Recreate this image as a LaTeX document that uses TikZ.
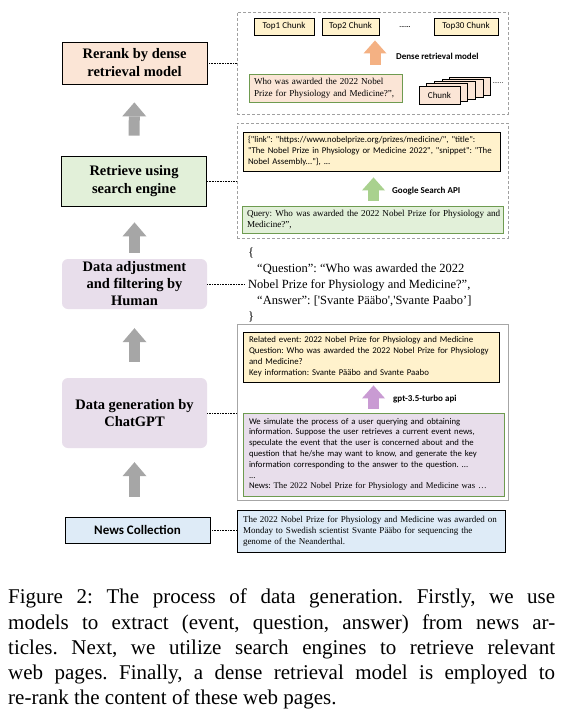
\documentclass[tikz,border=0pt]{standalone}
\usepackage{fontspec}
\setmainfont{Liberation Serif}[Ligatures=TeXOff]
\setsansfont{Carlito}[Ligatures=TeXOff]
\usetikzlibrary{arrows.meta}
\frenchspacing

\begin{document}
\begin{tikzpicture}[x=1pt, y=-1pt,
    stagebox/.style={draw=black, line width=0.8pt, minimum width=145pt, inner sep=2pt, align=center, font=\bfseries\fontsize{14.5}{18}\selectfont},
    softbox/.style={fill=stageFill, rounded corners=6pt, minimum width=145pt, inner sep=2pt, align=center, font=\bfseries\fontsize{14.5}{17}\selectfont},
    panel/.style={draw=panelGray, dash pattern=on 3pt off 2pt, line width=0.8pt, inner sep=0pt},
    infobox/.style={line width=0.8pt, align=left, inner ysep=0pt, font=\sffamily\fontsize{8.8}{11}\selectfont},
    chunkbox/.style={draw=black, line width=0.9pt, fill=yellowFill, minimum height=17pt, inner sep=0pt, font=\sffamily\fontsize{9}{11}\selectfont},
    stackbox/.style={draw=black, line width=0.9pt, fill=peachFill, minimum width=41pt, minimum height=18pt, inner sep=0pt, font=\sffamily\fontsize{9}{11}\selectfont},
    apilabel/.style={anchor=west, inner sep=0pt, font=\sffamily\bfseries\fontsize{9}{11}\selectfont},
    link/.style={densely dotted, line width=0.6pt},
    bigarrow/.style={draw=arrowGray, line width=11pt, -{Triangle[width=24pt, length=14pt, line width=0pt]}},
    smallarrow/.style={draw=#1, line width=11pt, -{Triangle[width=23pt, length=13pt, line width=0pt]}}]
    \definecolor{peachFill}{HTML}{FBE5D6}
    \definecolor{greenFill}{HTML}{E2F0D9}
    \definecolor{stageFill}{HTML}{E8DEEB}
    \definecolor{blueFill}{HTML}{DEEBF7}
    \definecolor{yellowFill}{HTML}{FFF2CC}
    \definecolor{arrowGray}{HTML}{A6A6A6}
    \definecolor{arrowOrange}{HTML}{F4B183}
    \definecolor{arrowGreen}{HTML}{A9D18E}
    \definecolor{arrowPurple}{HTML}{C99BD3}
    \definecolor{frameGreen}{HTML}{6E9B50}
    \definecolor{panelGray}{HTML}{A0A0A0}

    \path[use as bounding box, fill=white] (0,0) rectangle (562,725);

    % Stages on the left
    \node[stagebox, fill=peachFill, minimum height=42pt] (rerank) at (134.5,63) {Rerank by dense\\retrieval model};
    \node[stagebox, fill=greenFill, minimum height=50pt] (retrieve) at (134,181) {Retrieve using\\search engine};
    \node[softbox, minimum height=50pt] (adjust) at (134.5,284) {Data adjustment\\and filtering by\\Human};
    \node[softbox, minimum height=70pt] (gen) at (134.5,413) {Data generation by\\ChatGPT};
    \node[stagebox, fill=blueFill, minimum height=26pt, font=\sffamily\bfseries\fontsize{13}{15}\selectfont] (news) at (137.5,530) {News Collection};

    % Gray arrows between stages
    \draw[bigarrow, shorten <=20pt, shorten >=18pt] (retrieve.north) -- (rerank.south);
    \draw[bigarrow, shorten <=6pt, shorten >=16pt] (adjust.north) -- (adjust.north |- retrieve.south);
    \draw[bigarrow, shorten <=16pt, shorten >=19pt] (gen.north) -- (adjust.south);
    \draw[bigarrow, shorten <=20pt, shorten >=14pt] (gen.south |- news.north) -- (gen.south);

    % Dense retrieval panel
    \node[panel, minimum width=271pt, minimum height=102pt] (dense) at (372.5,63) {};
    \node[chunkbox, minimum width=60pt] (top1) at (284,26.5) {Top1 Chunk};
    \node[chunkbox, minimum width=57pt] (top2) at (350.5,26.5) {Top2 Chunk};
    \node[inner sep=0pt, font=\sffamily\bfseries\fontsize{7}{8}\selectfont] (topdots) at (405,27) {......};
    \node[chunkbox, minimum width=64pt] (top30) at (466,26.5) {Top30 Chunk};
    \node[infobox, draw=frameGreen, fill=peachFill, inner xsep=5pt, text width=143pt, minimum height=28pt, font=\fontsize{9.1}{12}\selectfont] (question) at (325.5,88) {\begin{tabular}{@{}l@{}}Who was awarded the 2022 Nobel\\Prize for Physiology and Medicine?”,\end{tabular}};
    \foreach \i in {4,3,2,1}
        \node[stackbox] (chunk\i) at ({439.5+7.7*\i},{95-2.2*\i}) {};
    \node[stackbox] (chunk0) at (439.5,95) {Chunk};
    \node[inner sep=0pt, font=\sffamily\fontsize{7}{8}\selectfont] (stackdots) at (498,83) {......};
    \coordinate (oa) at (375,0);
    \draw[smallarrow=arrowOrange, shorten <=9pt, shorten >=5pt] (question.north -| oa) -- (top2.south -| oa);
    \node[apilabel] (denselabel) at (396,56) {Dense retrieval model};

    % Search panel
    \node[panel, minimum width=271pt, minimum height=115pt] (search) at (372.5,180.5) {};
    \node[infobox, draw=black, fill=yellowFill, inner xsep=5pt, text width=247pt, minimum height=39pt] (json) at (371.5,151.5) {\{"link": "https://www.nobelprize.org/prizes/medicine/", "title":\\"The Nobel Prize in Physiology or Medicine 2022", "snippet": "The\\Nobel Assembly..."\}, ...};
    \node[infobox, draw=frameGreen, fill=greenFill, inner xsep=5pt, text width=251pt, minimum height=27pt, font=\fontsize{9.1}{11.5}\selectfont] (query) at (372.5,219.5) {\begin{tabular}{@{}l@{}}Query: Who was awarded the 2022 Nobel Prize for Physiology and\\Medicine?”,\end{tabular}};
    \coordinate (ga) at (373.5,0);
    \draw[smallarrow=arrowGreen, shorten <=5pt, shorten >=6pt] (query.north -| ga) -- (json.south -| ga);
    \node[apilabel] (searchlabel) at (392,191) {Google Search API};

    % Question and answer pair
    \node[anchor=north west, inner sep=0pt, align=left, font=\fontsize{12.5}{16}\selectfont] (pair) at (248,248) {\{\\
        \hspace*{9pt}“Question”: “Who was awarded the 2022\\
        Nobel Prize for Physiology and Medicine?”,\\
        \hspace*{9pt}“Answer”: ['Svante Pääbo','Svante Paabo’]\\
        \}};

    % ChatGPT panel
    \node[draw=arrowGray, line width=0.9pt, inner sep=0pt, minimum width=271pt, minimum height=176pt] (chat) at (372.5,412) {};
    \node[infobox, draw=black, fill=yellowFill, inner xsep=6pt, text width=244pt, minimum height=50pt] (event) at (371,357) {Related event: 2022 Nobel Prize for Physiology and Medicine\\Question: Who was awarded the 2022 Nobel Prize for Physiology\\and Medicine?\\Key information: Svante Pääbo and Svante Paabo};
    \node[infobox, draw=frameGreen, fill=stageFill, inner xsep=6pt, text width=249pt, minimum height=83pt, font=\sffamily\fontsize{8.7}{10.8}\selectfont] (prompt) at (373.5,454.5) {We simulate the process of a user querying and obtaining\\information. Suppose the user retrieves a current event news,\\speculate the event that the user is concerned about and the\\question that he/she may want to know, and generate the key\\information corresponding to the answer to the question. ...\\...\\News: {\rmfamily The 2022 Nobel Prize for Physiology and Medicine was …}};
    \coordinate (pa) at (373.5,0);
    \draw[smallarrow=arrowPurple, shorten <=4pt, shorten >=3pt] (prompt.north -| pa) -- (event.south -| pa);
    \node[apilabel] (gptlabel) at (393,399) {gpt-3.5-turbo api};

    % News text
    \node[infobox, draw=black, fill=blueFill, inner xsep=6pt, text width=256pt, minimum height=42pt, font=\fontsize{9}{11}\selectfont] (newstext) at (371,531) {The 2022 Nobel Prize for Physiology and Medicine was awarded on\\Monday to Swedish scientist Svante Pääbo for sequencing the\\genome of the Neanderthal.};

    % Dotted links from stages to examples
    \draw[link] (rerank.east) -- (rerank.east -| dense.west);
    \draw[link] (retrieve.east) -- (retrieve.east -| search.west);
    \draw[link, shorten >=3pt] (adjust.east) -- (adjust.east -| pair.west);
    \draw[link] (gen.east) -- (gen.east -| chat.west);
    \draw[link] (news.east) -- (news.east -| newstext.west);

    % Caption
    \node[anchor=north west, inner sep=0pt, text width=547pt, align=justify, font=\fontsize{21}{25.2}\selectfont] (caption) at (8,589) {Figure 2: The process of data generation. Firstly, we use\linebreak models to extract (event, question, answer) from news ar-\linebreak ticles. Next, we utilize search engines to retrieve relevant\linebreak web pages. Finally, a dense retrieval model is employed to\linebreak re-rank the content of these web pages.};

\end{tikzpicture}
\end{document}
